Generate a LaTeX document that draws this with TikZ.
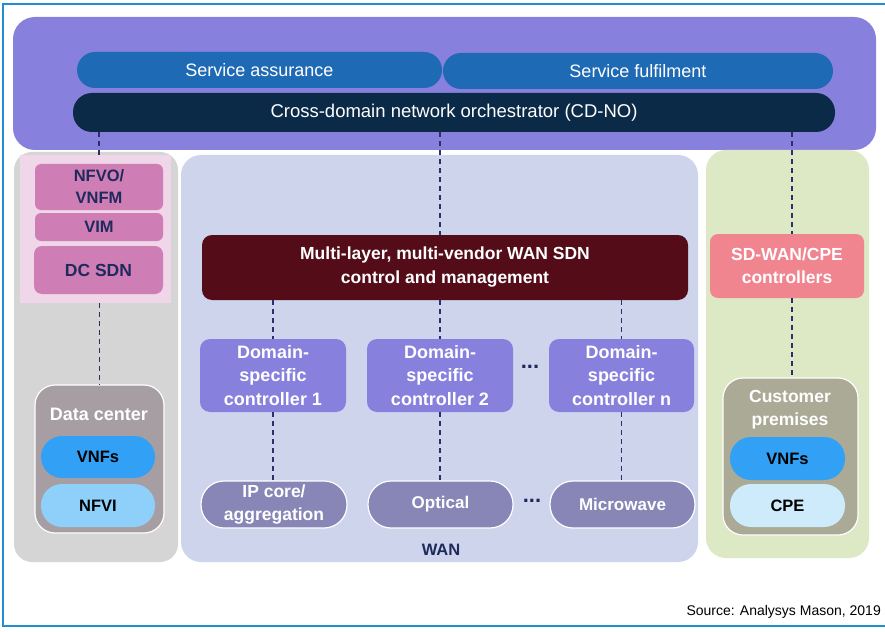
\documentclass[tikz,border=0pt]{standalone}
\usepackage{fontspec}
\setmainfont{Liberation Sans}
\definecolor{frameblue}{HTML}{1E8FD0}
\definecolor{toppurple}{HTML}{8880DD}
\definecolor{svcblue}{HTML}{1F6AB5}
\definecolor{navy}{HTML}{0B2A47}
\definecolor{graypanel}{HTML}{D5D5D5}
\definecolor{pinkbg}{HTML}{EFD6E8}
\definecolor{pinkbox}{HTML}{CE7EB5}
\definecolor{pinktext}{HTML}{1F2A5C}
\definecolor{dcgray}{HTML}{A69EA3}
\definecolor{vnfblue}{HTML}{31A0F5}
\definecolor{nfvilight}{HTML}{8ED0FA}
\definecolor{wanbg}{HTML}{CDD4EC}
\definecolor{maroon}{HTML}{540D18}
\definecolor{ctrlpurple}{HTML}{8880DD}
\definecolor{netgray}{HTML}{8886B6}
\definecolor{greenbg}{HTML}{DDE9C4}
\definecolor{sdwanpink}{HTML}{F08590}
\definecolor{cpgray}{HTML}{AAAA96}
\definecolor{cpelight}{HTML}{CDEBFB}
\definecolor{dashcol}{HTML}{2B2F6B}
\tikzset{
  box/.style={draw=none, align=center, inner sep=0pt, font=\fontsize{16}{19}\selectfont},
  panel/.style={draw=none, inner sep=0pt},
  conn/.style={draw=dashcol, line width=1.6pt, dash pattern=on 5pt off 4pt},
  pill/.style={box, rounded corners=#1},
}
\begin{document}
\begin{tikzpicture}[x=1pt,y=-1pt]
\useasboundingbox (0,0) rectangle (885,631);
\clip (0,0) rectangle (885,631);
\fill[white] (0,0) rectangle (885,631);
% frame
\coordinate (f1) at (885,4);
\coordinate (f2) at (3,4);
\coordinate (f3) at (3,626);
\coordinate (f4) at (885,626);
\draw[frameblue, line width=1.5pt] (f1) -- (f2) -- (f3) -- (f4);

% panels
\node[panel, fill=toppurple, rounded corners=22pt, minimum width=863pt, minimum height=133pt] (top) at (444.5,83.5) {};
\node[panel, fill=graypanel, rounded corners=18pt, minimum width=164pt, minimum height=410pt] (left) at (96,357) {};
\node[panel, fill=wanbg, rounded corners=20pt, minimum width=517pt, minimum height=407pt] (wan) at (439.5,358.5) {};
\node[panel, fill=greenbg, rounded corners=20pt, minimum width=163pt, minimum height=408pt] (green) at (787.5,354) {};
\node[panel, fill=pinkbg, minimum width=151pt, minimum height=148pt] (pinkpanel) at (95.5,229) {};

% top boxes
\node[pill=18pt, fill=svcblue, text=white, font=\fontsize{18}{20}\selectfont, minimum width=365pt, minimum height=36pt] (sa) at (259.5,70) {Service assurance};
\node[pill=18pt, fill=svcblue, text=white, font=\fontsize{18}{20}\selectfont, minimum width=390pt, minimum height=36pt] (sf) at (638,71) {Service fulfilment};
\node[pill=19pt, fill=navy, text=white, font=\fontsize{18.5}{20}\selectfont, minimum width=762pt, minimum height=39pt] (cdno) at (454,112.5) {Cross-domain network orchestrator (CD-NO)};

% data center side
\node[pill=6pt, fill=pinkbox, text=pinktext, font=\fontsize{16.5}{22}\selectfont\bfseries, minimum width=128pt, minimum height=46pt] (nfvo) at (99,187) {NFVO/\\VNFM};
\node[pill=6pt, fill=pinkbox, text=pinktext, font=\fontsize{16.5}{19}\selectfont\bfseries, minimum width=128pt, minimum height=28pt] (vim) at (99,227) {VIM};
\node[pill=8pt, fill=pinkbox, text=pinktext, font=\fontsize{17.5}{19}\selectfont\bfseries, minimum width=129pt, minimum height=48pt] (dcsdn) at (98.5,270) {DC SDN};
\node[box, draw=white, line width=1.2pt, fill=dcgray, rounded corners=20pt, minimum width=129pt, minimum height=148pt] (dc) at (99.5,459) {};
\node[box, text=white, font=\fontsize{18}{20}\selectfont\bfseries] (dclabel) at (99,414) {Data center};
\node[pill=21pt, fill=vnfblue, text=black, font=\fontsize{16.5}{19}\selectfont\bfseries, minimum width=114pt, minimum height=42pt] (vnfs1) at (98,457) {VNFs};
\node[pill=21pt, fill=nfvilight, text=black, font=\fontsize{16.5}{19}\selectfont\bfseries, minimum width=114pt, minimum height=43pt] (nfvi) at (98,505.5) {NFVI};

% WAN
\node[pill=10pt, fill=maroon, text=white, font=\fontsize{17.5}{24}\selectfont\bfseries, minimum width=486pt, minimum height=65pt] (wansdn) at (445,267.5) {Multi-layer, multi-vendor WAN SDN\\control and management};
\node[pill=10pt, fill=ctrlpurple, text=white, font=\fontsize{18}{23.5}\selectfont\bfseries, minimum width=146pt, minimum height=73pt] (dsc1) at (273,375.5) {Domain-\\specific\\controller 1};
\node[pill=10pt, fill=ctrlpurple, text=white, font=\fontsize{18}{23.5}\selectfont\bfseries, minimum width=146pt, minimum height=73pt] (dsc2) at (440,375.5) {Domain-\\specific\\controller 2};
\node[pill=10pt, fill=ctrlpurple, text=white, font=\fontsize{18}{23.5}\selectfont\bfseries, minimum width=145pt, minimum height=73pt] (dscn) at (621.5,375.5) {Domain-\\specific\\controller n};
\node[box, text=pinktext, font=\fontsize{22}{22}\selectfont\bfseries] (dots1) at (530,367) {...};
\node[pill=23pt, draw=white, line width=1.2pt, fill=netgray, text=white, font=\fontsize{17.5}{23}\selectfont\bfseries, minimum width=146pt, minimum height=47pt] (ip) at (274,504.5) {IP core/\\aggregation};
\node[pill=23pt, draw=white, line width=1.2pt, fill=netgray, text=white, font=\fontsize{17}{19}\selectfont\bfseries, minimum width=145pt, minimum height=47pt] (opt) at (440.5,504.5) {Optical};
\node[pill=23pt, draw=white, line width=1.2pt, fill=netgray, text=white, font=\fontsize{17}{19}\selectfont\bfseries, minimum width=145pt, minimum height=47pt] (mw) at (622.5,504.5) {Microwave};
\node[box, text=pinktext, font=\fontsize{22}{22}\selectfont\bfseries] (dots2) at (532,501) {...};
\node[box, text=pinktext, font=\fontsize{16.5}{19}\selectfont\bfseries] (wanlabel) at (441,550) {WAN};

% customer side
\node[pill=8pt, fill=sdwanpink, text=white, font=\fontsize{17.5}{23}\selectfont\bfseries, minimum width=154pt, minimum height=64pt] (sdwan) at (787,266) {SD-WAN/CPE\\controllers};
\node[box, draw=white, line width=1.2pt, fill=cpgray, rounded corners=20pt, minimum width=135pt, minimum height=157pt] (cp) at (790.5,456.5) {};
\node[box, text=white, font=\fontsize{17.5}{23}\selectfont\bfseries] (cplabel) at (790,410) {Customer\\premises};
\node[pill=21pt, fill=vnfblue, text=black, font=\fontsize{16.5}{19}\selectfont\bfseries, minimum width=115pt, minimum height=43pt] (vnfs2) at (787.5,458.5) {VNFs};
\node[pill=21pt, fill=cpelight, text=black, font=\fontsize{16.5}{19}\selectfont\bfseries, minimum width=115pt, minimum height=43pt] (cpe) at (787.5,505.5) {CPE};

% connectors
\coordinate (c792) at (792,0);
\draw[conn] (cdno.south -| nfvo.north) -- (pinkpanel.north -| nfvo.north);
\draw[conn] (cdno.south -| dsc2.north) -- (wansdn.north -| dsc2.north);
\draw[conn] (cdno.south -| c792) -- (sdwan.north -| c792);
\draw[conn] (pinkpanel.south -| dc.north) -- (dc.north);
\draw[conn] (wansdn.south -| dsc1.north) -- (dsc1.north);
\draw[conn] (wansdn.south -| dsc2.north) -- (dsc2.north);
\draw[conn] (wansdn.south -| dscn.north) -- (dscn.north);
\draw[conn] (dsc1.south) -- (ip.north -| dsc1.south);
\draw[conn] (dsc2.south) -- (opt.north -| dsc2.south);
\draw[conn] (dscn.south) -- (mw.north -| dscn.south);
\draw[conn] (sdwan.south -| c792) -- (cp.north -| c792);

% source
\node[anchor=east, inner sep=0pt, font=\fontsize{14}{16}\selectfont, text=black] (src) at (881,612) {Source: Analysys Mason, 2019};
\end{tikzpicture}
\end{document}
